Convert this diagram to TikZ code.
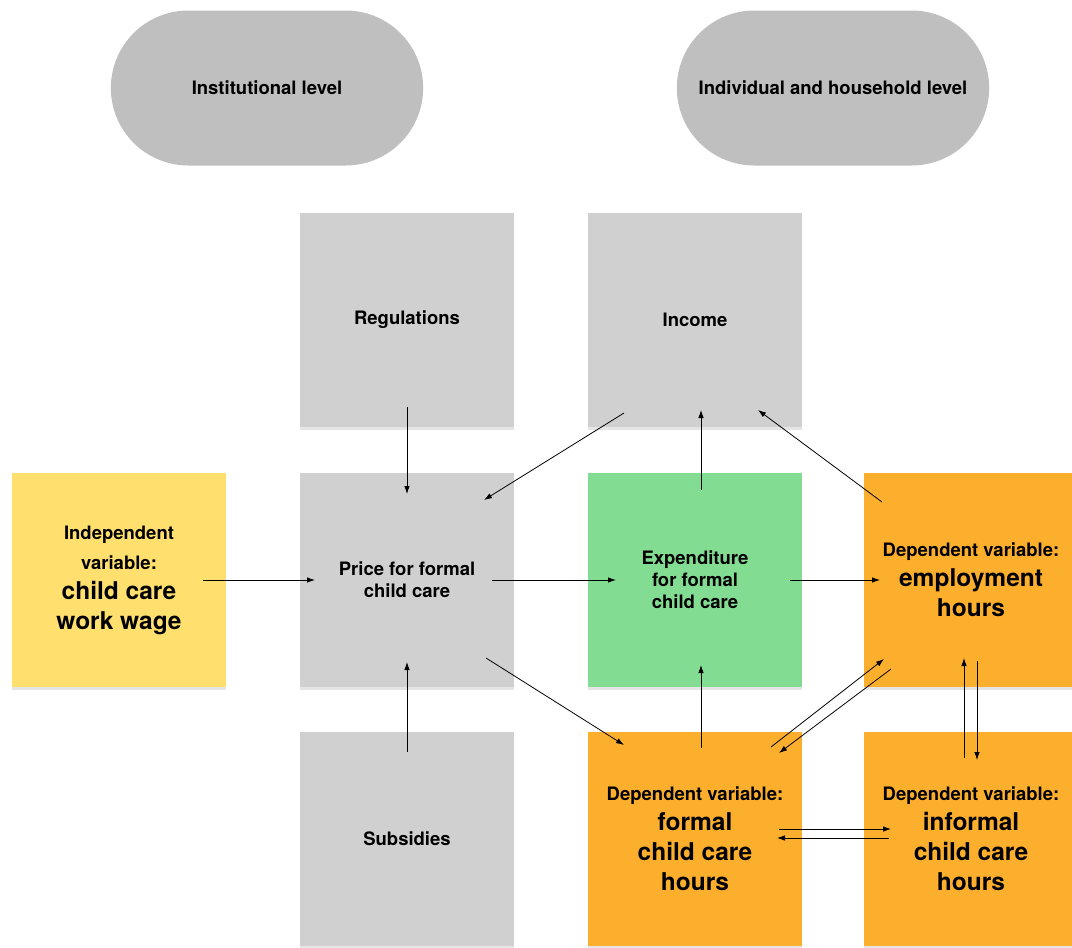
\documentclass[tikz,border=0pt]{standalone}
\usepackage{fontspec}
\setsansfont{TeX Gyre Heros}
\usetikzlibrary{arrows.meta,calc,shapes.misc,shadows}
\definecolor{pillGray}{RGB}{191,191,191}
\definecolor{boxGray}{RGB}{208,208,208}
\definecolor{indepY}{RGB}{255,223,110}
\definecolor{spendG}{RGB}{130,221,146}
\definecolor{depO}{RGB}{252,174,45}
\newcommand\lgtxt{\fontsize{24.5}{30}\selectfont}
\tikzset{
  level/.style={rounded rectangle, fill=pillGray, minimum width=319pt,
                minimum height=155pt, font=\sffamily\bfseries\fontsize{18.5}{22}\selectfont},
  var/.style  ={rectangle, fill=boxGray, minimum width=214pt, minimum height=214pt,
                align=center, font=\sffamily\bfseries\fontsize{18.5}{22}\selectfont,
                general shadow={fill=black, opacity=0.10, shadow yshift=-3pt}},
  indep/.style={var, fill=indepY, font=\sffamily\bfseries\fontsize{18.5}{30}\selectfont},
  spend/.style={var, fill=spendG},
  dep/.style  ={var, fill=depO, font=\sffamily\bfseries\fontsize{18.5}{30}\selectfont},
  fl/.style   ={-{Latex[length=8pt,width=5.5pt]}, line width=0.8pt},
}
\begin{document}
\begin{tikzpicture}[x=1pt,y=-1pt]
\useasboundingbox (0,0) rectangle (1072,948);
% levels
\node[level] (inst) at (267,88) {Institutional level};
\node[level] (indiv) at (833,88) {Individual and household level};
% variables
\node[var] (reg) at (407,320) {Regulations};
\node[var] (inc) at (695,320) {Income};
\node[indep] (wage) at (119,580) {Independent\\variable:\\\lgtxt child care\\\lgtxt work wage};
\node[var] (price) at (407,580) {Price for formal\\child care};
\node[spend] (exp) at (695,580) {Expenditure\\for formal\\child care};
\node[dep] (emp) at (971,580) {Dependent variable:\\\lgtxt employment\\\lgtxt hours};
\node[var] (sub) at (407,839) {Subsidies};
\node[dep] (form) at (695,839) {Dependent variable:\\\lgtxt formal\\\lgtxt child care\\\lgtxt hours};
\node[dep] (inf) at (971,839) {Dependent variable:\\\lgtxt informal\\\lgtxt child care\\\lgtxt hours};
% connectors
\foreach \a/\sa/\b/\sb in {
    reg/{0,87}/price/{0,-86}, sub/{0,-87}/price/{0,82},
    wage/{84,0}/price/{-92,0}, price/{85,0}/exp/{-79,0}, exp/{95,0}/emp/{-91,0},
    inc/{-71,93}/price/{77,-80}, exp/{6,-90}/inc/{6,90}, emp/{-89,-78}/inc/{63,90},
    price/{79,78}/form/{-71,-94}, form/{6,-91}/exp/{6,85},
    form/{76,-92}/emp/{-87,79}, emp/{-80,89}/form/{84,-86},
    inf/{-7,-81}/emp/{-7,78}, emp/{6,81}/inf/{6,-79},
    form/{84,-10}/inf/{-80,-10}, inf/{-82,-1}/form/{82,-1}}
  \draw[fl] ($(\a)+(\sa)$) -- ($(\b)+(\sb)$);
\end{tikzpicture}
\end{document}
